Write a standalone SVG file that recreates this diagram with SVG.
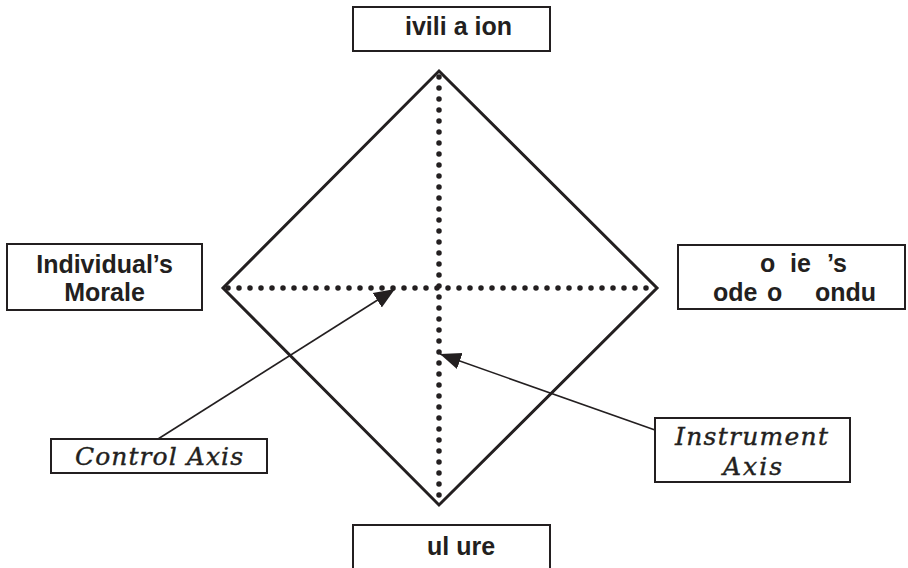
<svg xmlns="http://www.w3.org/2000/svg" width="908" height="568" viewBox="0 0 908 568">
<style>
.box{fill:#fff;stroke:#231f20;stroke-width:2}
.lbl{font-family:"Liberation Sans",Arial,sans-serif;font-weight:bold;font-size:25px;fill:#231f20}
.ital{font-family:"DejaVu Serif","Liberation Serif",serif;font-style:italic;font-size:25px;fill:#231f20;stroke:#231f20;stroke-width:0.4}
.dot{fill:none;stroke:#231f20;stroke-width:5.5;stroke-linecap:round;stroke-dasharray:0 11}
.ptr{fill:none;stroke:#231f20;stroke-width:1.6}
</style>
<defs>
<marker id="ah" markerUnits="userSpaceOnUse" markerWidth="22" markerHeight="20" refX="21" refY="10" orient="auto">
<path d="M0,1.5 L21,10 L0,18.5 z" fill="#231f20"/>
</marker>
</defs>
<rect width="908" height="568" fill="#fff"/>
<g id="diamond">
<polygon points="439,71 657,288 439,505 223,288" fill="none" stroke="#231f20" stroke-width="3"/>
</g>
<g id="connectors">
<line class="dot" x1="228" y1="288" x2="652" y2="288"/>
<line class="dot" x1="439" y1="77" x2="439" y2="500"/>
<line class="ptr" x1="158" y1="439" x2="395" y2="289" marker-end="url(#ah)"/>
<line class="ptr" x1="655" y1="430" x2="440" y2="354" marker-end="url(#ah)"/>
</g>
<g id="civilization">
<rect class="box" x="353" y="7" width="197" height="44"/>
<text class="lbl" x="405" y="35" xml:space="preserve">ivili a ion</text>
</g>
<g id="individual">
<rect class="box" x="7" y="244" width="195" height="66"/>
<text class="lbl" x="104.5" y="273" text-anchor="middle">Individual’s</text>
<text class="lbl" x="104.5" y="301" text-anchor="middle">Morale</text>
</g>
<g id="society">
<rect class="box" x="678" y="245" width="227" height="64"/>
<text class="lbl" y="272"><tspan x="760">o</tspan> <tspan x="790">ie</tspan> <tspan x="827">’s</tspan></text>
<text class="lbl" y="301"><tspan x="713">ode</tspan> <tspan x="767">o</tspan> <tspan x="815">ondu</tspan></text>
</g>
<g id="culture">
<rect class="box" x="353" y="525" width="197" height="55"/>
<text class="lbl" x="427" y="555" xml:space="preserve">ul ure</text>
</g>
<g id="control">
<rect class="box" x="51" y="439" width="216" height="34"/>
<text class="ital" x="75" y="465" textLength="168" lengthAdjust="spacing">Control Axis</text>
</g>
<g id="instrument">
<rect class="box" x="655" y="418" width="195" height="64"/>
<text class="ital" x="675" y="445" textLength="153" lengthAdjust="spacing">Instrument</text>
<text class="ital" x="723" y="475" textLength="59" lengthAdjust="spacing">Axis</text>
</g>
</svg>
